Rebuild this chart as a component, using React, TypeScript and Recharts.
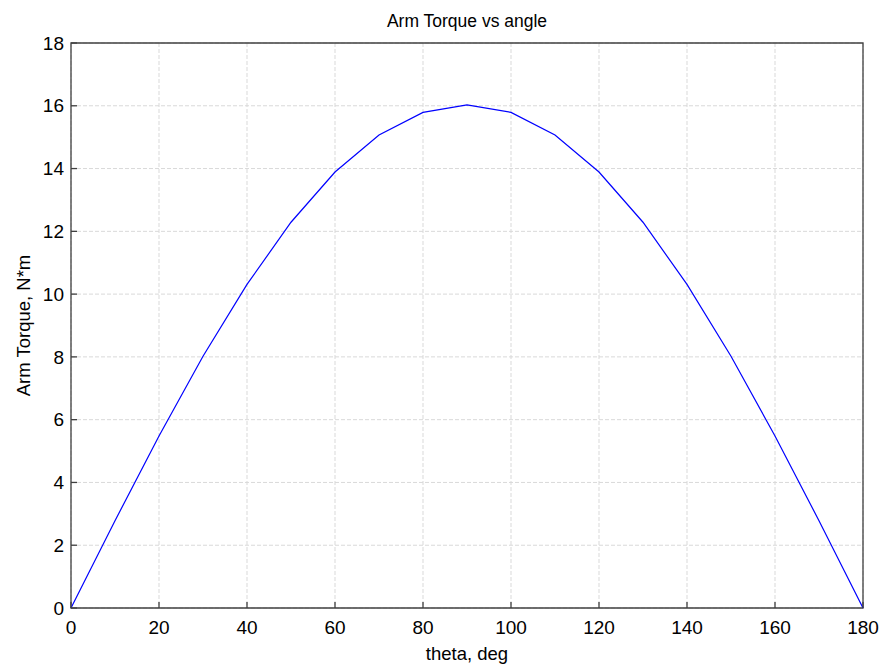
import { CartesianGrid, Label, Line, LineChart, ReferenceArea, XAxis, YAxis } from "recharts";

const angles = [0, 10, 20, 30, 40, 50, 60, 70, 80, 90, 100, 110, 120, 130, 140, 150, 160, 170, 180];
const torque = [0, 2.78, 5.48, 8.02, 10.31, 12.29, 13.89, 15.07, 15.79, 16.03, 15.79, 15.07, 13.89, 12.29, 10.31, 8.02, 5.48, 2.78, 0];
const xTicks = [0, 20, 40, 60, 80, 100, 120, 140, 160, 180];
const yTicks = [0, 2, 4, 6, 8, 10, 12, 14, 16, 18];

const data = angles.map((a, i) => ({ theta: a, torque: torque[i] }));

const font = "'Liberation Sans', Arial, sans-serif";
const frame = "#404040";
const TICK = 6;
const X_GAP = 11;
const Y_GAP = 7;

function BottomTick({ x, y, payload }: any) {
  const base = y - X_GAP;
  return (
    <g>
      <line x1={x} x2={x} y1={base} y2={base - TICK} stroke={frame} strokeWidth={1.3} />
      <text x={x} y={y} dy="0.8em" textAnchor="middle" style={{ fontSize: 19, fontFamily: font, fill: "#000" }}>
        {payload.value}
      </text>
    </g>
  );
}

function LeftTick({ x, y, payload }: any) {
  const base = x + Y_GAP;
  return (
    <g>
      <line x1={base} x2={base + TICK} y1={y} y2={y} stroke={frame} strokeWidth={1.3} />
      <text x={x} y={y} dy="0.35em" textAnchor="end" style={{ fontSize: 19, fontFamily: font, fill: "#000" }}>
        {payload.value}
      </text>
    </g>
  );
}

function TopTick({ x, y }: any) {
  return <line x1={x} x2={x} y1={y} y2={y + TICK} stroke={frame} strokeWidth={1.3} />;
}

function RightTick({ x, y }: any) {
  return <line x1={x - TICK} x2={x} y1={y} y2={y} stroke={frame} strokeWidth={1.3} />;
}

function YTitle({ viewBox }: any) {
  const cx = viewBox.x + 23;
  const cy = viewBox.y + viewBox.height / 2;
  return (
    <text x={cx} y={cy} transform={`rotate(-90 ${cx} ${cy})`} textAnchor="middle" dominantBaseline="central"
      style={{ fontSize: 18.5, fontFamily: font, fill: "#000" }}>
      Arm Torque, N*m
    </text>
  );
}

function XTitle({ viewBox }: any) {
  const cx = viewBox.x + viewBox.width / 2;
  return (
    <text x={cx} y={viewBox.y + 45} textAnchor="middle" dominantBaseline="central"
      style={{ fontSize: 18.5, fontFamily: font, fill: "#000" }}>
      theta, deg
    </text>
  );
}

export default function App() {
  return (
    <div style={{ position: "absolute", left: 0, top: 0, width: 884, height: 667, background: "#fff" }}>
      <div style={{ position: "absolute", top: 11, left: 71, width: 792, textAlign: "center", fontFamily: font, fontSize: 17.5, color: "#000" }}>
        Arm Torque vs angle
      </div>
      <LineChart width={884} height={667} data={data} margin={{ top: 43, right: 21, bottom: 0, left: 0 }}>
        <CartesianGrid stroke="#d9d9d9" strokeDasharray="4 2" />
        <XAxis dataKey="theta" type="number" domain={[0, 180]} ticks={xTicks} height={59}
          tick={<BottomTick />} tickSize={0} tickMargin={X_GAP} axisLine={false} tickLine={false} interval={0}>
          <Label content={<XTitle />} />
        </XAxis>
        <XAxis xAxisId="top" orientation="top" dataKey="theta" type="number" domain={[0, 180]} ticks={xTicks}
          height={0} tick={<TopTick />} tickSize={0} tickMargin={0} axisLine={false} tickLine={false} interval={0} />
        <YAxis type="number" domain={[0, 18]} ticks={yTicks} width={71} tick={<LeftTick />}
          tickSize={0} tickMargin={Y_GAP} axisLine={false} tickLine={false} interval={0}>
          <Label content={<YTitle />} />
        </YAxis>
        <YAxis yAxisId="right" orientation="right" type="number" domain={[0, 18]} ticks={yTicks}
          width={0} tick={<RightTick />} tickSize={0} tickMargin={0} axisLine={false} tickLine={false} interval={0} />
        <ReferenceArea x1={0} x2={180} y1={0} y2={18} fill="none" stroke={frame} strokeWidth={1.3} ifOverflow="visible" />
        <Line type="linear" dataKey="torque" stroke="#0000ff" strokeWidth={1.2} dot={false} isAnimationActive={false} />
      </LineChart>
    </div>
  );
}
